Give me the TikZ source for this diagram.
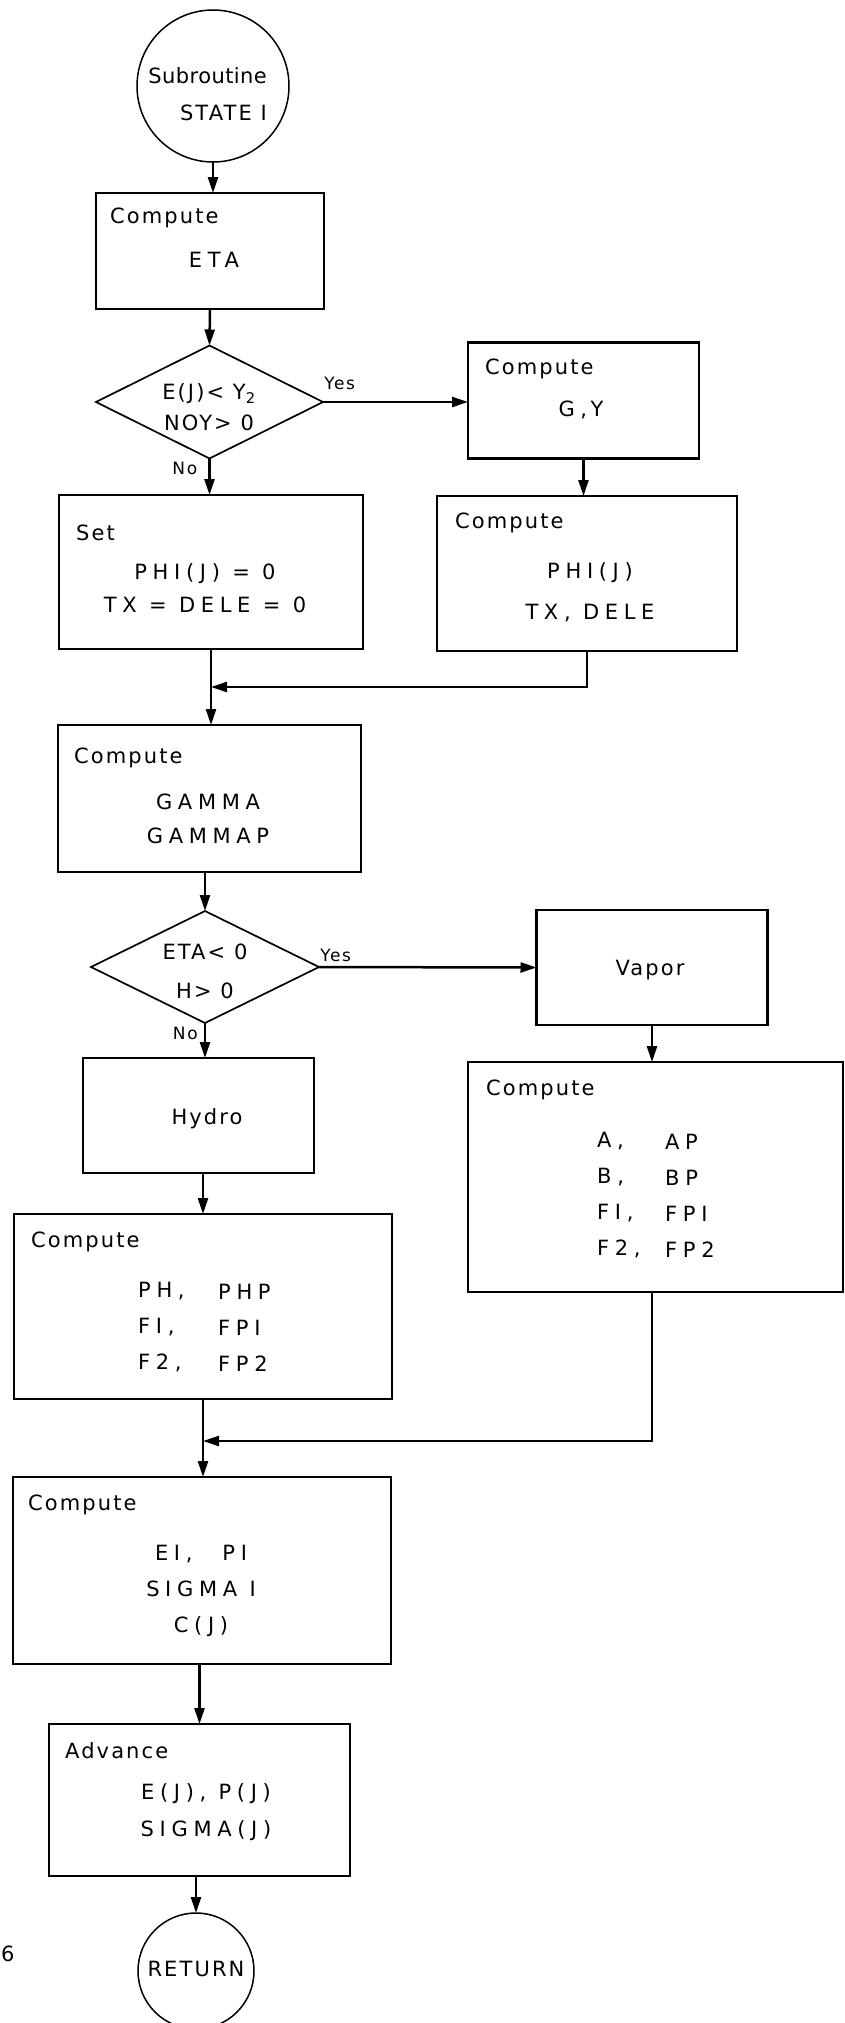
\documentclass[tikz,border=0pt]{standalone}
\usepackage{fontspec}
\setmainfont{DejaVu Sans}
\newfontfamily\headfnt{DejaVu Sans}[LetterSpace=10]
\newfontfamily\bodyfnt{DejaVu Sans}[LetterSpace=27]
\usetikzlibrary{arrows.meta,shapes.geometric}

\begin{document}
\begin{tikzpicture}[
	x=1pt, y=-1pt,
	>={Triangle[length=16pt,width=10pt]},
	box/.style args={#1x#2}{draw, line width=2.3pt, inner sep=0pt, outer sep=0pt,
		minimum width=#1pt, minimum height=#2pt},
	dec/.style args={#1x#2}{draw, diamond, line width=1.7pt, inner sep=0pt, outer sep=0pt,
		minimum width=#1pt, minimum height=#2pt},
	term/.style={draw, circle, line width=1.5pt, inner sep=0pt, outer sep=0pt, minimum size=#1pt},
	head/.style={anchor=west, inner sep=0pt, font=\headfnt\fontsize{21}{36}\selectfont},
	body/.style={align=center, inner sep=0pt, font=\bodyfnt\fontsize{21}{36}\selectfont},
	lbl/.style={inner sep=0pt, font=\headfnt\fontsize{17}{20}\selectfont},
	flow/.style={->, line width=2.5pt}
	]
	\useasboundingbox (0,0) rectangle (844,2023);
	
	%--- shapes ---
	\node[term=152] (start) at (213,86) {};
	\node[box=228x116] (eta) at (210,251) {};
	\node[dec=227x113] (dec1) at (209.5,402) {};
	\node[box=231x116] (gy) at (583.5,400.5) {};
	\node[box=304x154] (setb) at (211,572) {};
	\node[box=300x155] (phi) at (587,573.5) {};
	\node[box=303x147] (gamma) at (209.5,798.5) {};
	\node[dec=228x112] (dec2) at (205,967) {};
	\node[box=231x115] (vapor) at (652,967.5) {};
	\node[box=231x115] (hydro) at (198.5,1115.5) {};
	\node[box=375x230] (vcomp) at (655.5,1177) {};
	\node[box=378x185] (hcomp) at (203,1306.5) {};
	\node[box=378x187] (fcomp) at (202,1570.5) {};
	\node[box=301x152] (adv) at (199.5,1800) {};
	\node[term=116] (ret) at (196,1971) {};
	
	%--- texts ---
	\node[head, anchor=east, align=right] (startTx) at (267,94.5)
	{{\addfontfeature{LetterSpace=2}Subroutine}\\[1pt]STATE I};
	\node[head] (etaHd) at (110,218) {Compute};
	\node[body] (etaTx) at (214,260) {ETA};
	\node[head, align=center, anchor=center] (dec1Tx) at (209,407)
	{E(J)< Y\textsubscript{2}\\[-5pt]NOY> 0};
	\node[head] (gyHd) at (485,369) {Compute};
	\node[body] (gyTx) at (581,410) {G,\,Y};
	\node[head] (setHd) at (76,533) {Set};
	\node[body] (setTx) at (205,588.5) {PHI(J) = 0\\[-3pt]TX = DELE = 0};
	\node[head] (phiHd) at (455,523) {Compute};
	\node[body] (phiTx) at (590,592.5) {PHI(J)\\[5pt]TX, DELE};
	\node[head] (gamHd) at (74,758) {Compute};
	\node[body] (gamTx) at (208,819) {GAMMA\\[-2pt]GAMMAP};
	\node[head, align=center, anchor=center] (dec2Tx) at (205,971.5)
	{ETA< 0\\[3pt]H> 0};
	\node[head, anchor=center] (vapTx) at (650,970) {Vapor};
	\node[head, anchor=center] (hydTx) at (207,1119) {Hydro};
	\node[head] (vcHd) at (486,1090) {Compute};
	\node[body, align=left, anchor=west] (vcL) at (597,1195.5) {A,\\B,\\FI,\\F2,};
	\node[body, align=left, anchor=west] (vcR) at (665,1195.5) {AP\\BP\\FPI\\FP2};
	\node[head] (hcHd) at (31,1242) {Compute};
	\node[body, align=left, anchor=west] (hcL) at (138,1327.5) {PH,\\FI,\\F2,};
	\node[body, align=left, anchor=west] (hcR) at (218,1327.5) {PHP\\FPI\\FP2};
	\node[head] (fcHd) at (28,1505) {Compute};
	\node[body] (fcTx) at (201,1591) {EI,\hspace{30pt}PI\\SIGMA I\\C(J)};
	\node[head] (advHd) at (65,1751) {Advance};
	\node[body] (advTx) at (206,1812.5) {E(J), P(J)\\[1pt]SIGMA(J)};
	\node[head, anchor=center] (retTx) at (196,1969) {RETURN};
	\node[head, anchor=base west] (pgno) at (1,1961) {6};
	
	%--- connectors ---
	\draw[flow] (start.south) -- (start.south |- eta.north);
	\draw[flow] (eta.south) -- (dec1.north);
	\draw[flow] (dec1.east) -- node[lbl, pos=0, anchor=south west, yshift=11pt] (yes1) {Yes}
	(dec1.east -| gy.west);
	\draw[flow] (dec1.south) -- node[lbl, pos=0, anchor=north east, xshift=-11pt, yshift=-2pt] (no1) {No}
	(dec1.south |- setb.north);
	\draw[flow] (gy.south) -- (gy.south |- phi.north);
	
	\coordinate (j1) at ([yshift=-38pt]setb.south);
	\draw[flow] (phi.south) |- (j1);
	\draw[flow] (setb.south) -- (setb.south |- gamma.north);
	
	\draw[flow] (dec2.north |- gamma.south) -- (dec2.north);
	\draw[flow] (dec2.east) -- node[lbl, pos=0, anchor=south west, yshift=4pt] (yes2) {Yes}
	(vapor.west);
	\draw[flow] (dec2.south) -- node[lbl, pos=0, anchor=north east, xshift=-6pt, yshift=-3pt] (no2) {No}
	(dec2.south |- hydro.north);
	\draw[flow] (vapor.south) -- (vapor.south |- vcomp.north);
	\draw[flow] (hcomp.north |- hydro.south) -- (hcomp.north);
	
	\coordinate (j2) at ([yshift=-42pt]hcomp.south);
	\draw[flow] (vapor.south |- vcomp.south) |- (j2);
	\draw[flow] (hcomp.south) -- (hcomp.south |- fcomp.north);
	\draw[flow] (adv.north |- fcomp.south) -- (adv.north);
	\draw[flow] (ret.north |- adv.south) -- (ret.north);
	
\end{tikzpicture}
\end{document}
